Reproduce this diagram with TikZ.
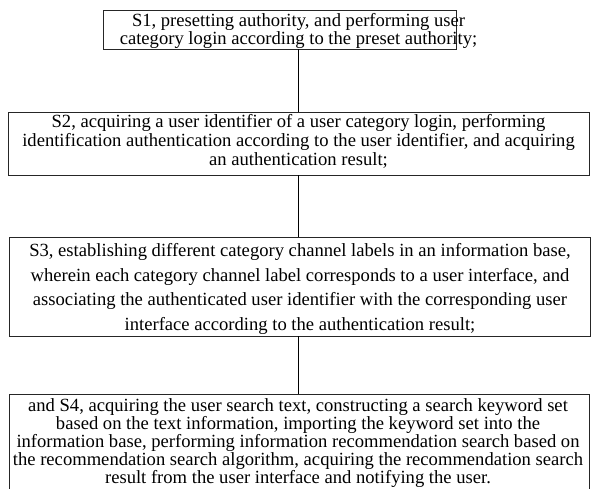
\documentclass[tikz,border=0pt]{standalone}
\usepackage{fontspec}
\setmainfont{Liberation Serif}
\begin{document}
\begin{tikzpicture}[x=1pt,y=1pt,
  box/.style={draw=black!85, line width=1pt, inner sep=0pt},
  txt/.style={align=center, inner sep=0pt, font=\fontsize{18.6}{18.8}\selectfont},
  link/.style={draw=black, line width=1pt}]
\useasboundingbox (0,0) rectangle (591,-488);
% boxes
\node[box, minimum width=353, minimum height=39] (s1) at (279.5,-29.5) {};
\node[box, minimum width=581, minimum height=63] (s2) at (298.5,-143.5) {};
\node[box, minimum width=581, minimum height=99] (s3) at (299.5,-286.5) {};
\node[box, minimum width=580, minimum height=100] (s4) at (299,-444) {};
% texts
\node[txt] (t1) at (298.5,-31) {S1, presetting authority, and performing user\\category login according to the preset authority;};
\node[txt] (t2) at (298.5,-141.5) {S2, acquiring a user identifier of a user category login, performing\\identification authentication according to the user identifier, and acquiring\\an authentication result;};
\node[txt, font=\fontsize{18.6}{24.5}\selectfont] (t3) at (300,-289) {S3, establishing different category channel labels in an information base,\\wherein each category channel label corresponds to a user interface, and\\associating the authenticated user identifier with the corresponding user\\interface according to the authentication result;};
\node[txt, font=\fontsize{18.6}{18.2}\selectfont] (t4) at (298,-443) {and S4, acquiring the user search text, constructing a search keyword set\\based on the text information, importing the keyword set into the\\information base, performing information recommendation search based on\\the recommendation search algorithm, acquiring the recommendation search\\result from the user interface and notifying the user.};
% connectors
\coordinate (c1) at (298,-49);
\coordinate (c2) at (298,-175);
\coordinate (c3) at (298,-336);
\draw[link] (c1) -- (c1 |- s2.north);
\draw[link] (c2) -- (c2 |- s3.north);
\draw[link] (c3) -- (c3 |- s4.north);
\end{tikzpicture}
\end{document}
